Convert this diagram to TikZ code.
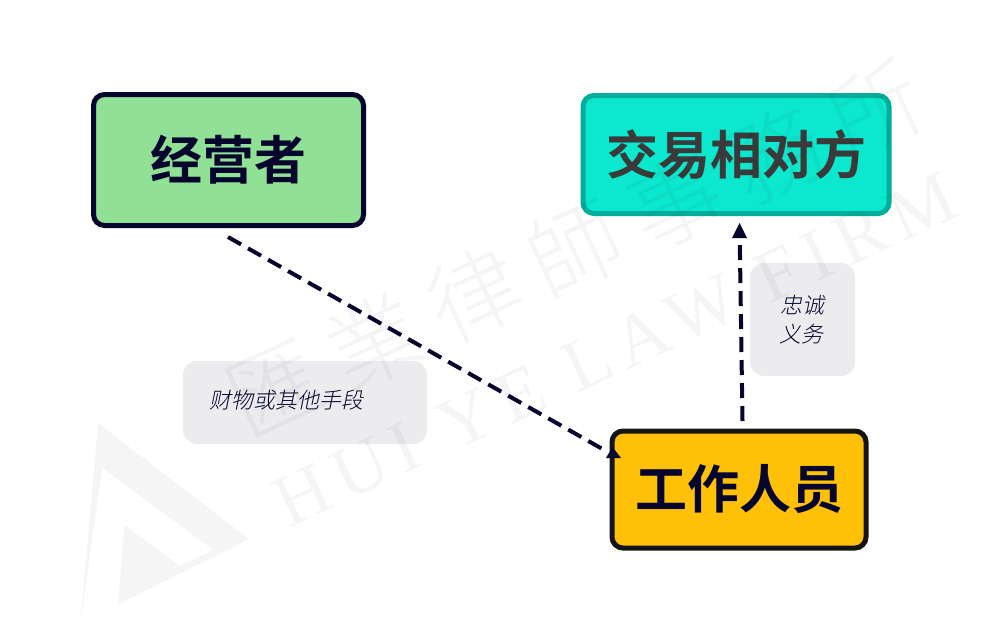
\documentclass[tikz,border=0pt]{standalone}
\usepackage{fontspec}
\setmainfont[LetterSpace=14]{Liberation Serif}
\newfontfamily\cjkb[BoldFont={Noto Sans CJK SC Bold}]{Noto Sans CJK SC}
\newfontfamily\cjki[FakeSlant=0.2]{Noto Sans CJK SC Light}
\newfontfamily\cjkw[LetterSpace=20]{Noto Sans CJK TC Light}
\usetikzlibrary{arrows.meta}
\definecolor{ink}{HTML}{05052E}
\definecolor{labelgray}{HTML}{ECEBEE}
\definecolor{greenfill}{HTML}{90E096}
\definecolor{tealfill}{HTML}{0CE8CE}
\definecolor{tealline}{HTML}{00AE9E}
\definecolor{amber}{HTML}{FFC107}
\definecolor{amberline}{HTML}{141414}
\definecolor{graytext}{HTML}{3A3A3A}
\tikzset{
  party/.style={rounded corners=11pt, line width=5pt, inner sep=0pt, font=\cjkb\bfseries\fontsize{52}{52}\selectfont},
  tag/.style={rounded corners=14pt, fill=labelgray, inner sep=0pt, text=ink, font=\cjki\fontsize{22}{28}\selectfont, align=center},
  link/.style={draw=ink, line width=4pt, dash pattern=on 15pt off 8pt},
  wmark/.style={opacity=0.04, text opacity=0.04}
}
\begin{document}
\begin{tikzpicture}[x=1pt,y=-1pt]
\useasboundingbox (0,0) rectangle (981,640);
\fill[white] (0,0) rectangle (981,640);
\node[party, draw=ink, fill=greenfill, text=ink, minimum width=270pt, minimum height=131pt] (boss) at (228.5,160) {\raisebox{-1pt}{经营者}};
\node[party, draw=tealline, fill=tealfill, text=graytext, minimum width=306pt, minimum height=118pt] (other) at (736,154.5) {\raisebox{1pt}{交易相对方}};
\node[party, draw=amberline, fill=amber, text=ink, minimum width=254pt, minimum height=117pt] (staff) at (739,489.5) {\raisebox{1pt}{工作人员}};
\node[tag, minimum width=244pt, minimum height=83pt] (means) at (305,402.5) {};
\node[anchor=west, text=ink, font=\cjki\fontsize{22}{28}\selectfont, inner sep=0pt] (meanstext) at (209,400) {财物或其他手段};
\node[tag, minimum width=105pt, minimum height=113pt] (duty) at (802.5,319.5) {\raisebox{1pt}{忠诚}\\\kern-2pt 义务};
\coordinate (a1) at (228,237);
\coordinate (a2) at (606,451);
\coordinate (b1) at (742.5,421);
\coordinate (b2) at (739.5,223);
\draw[link] (a1) -- (a2);
\fill[ink] (612.5,447) -- (621,458) -- (606,458) -- cycle;
\path (b1) -- coordinate[pos=0.93] (b3) (b2);
\draw[link] (b1) -- (b3);
\fill[ink] (b2) -- (747,238) -- (732,238) -- cycle;
% watermark
\fill[wmark] (98.2,423.2) -- (249.3,539.3) -- (118.2,604.3) -- (124.3,525) -- (179.6,566) -- (213.6,550) -- (102.1,467.9) -- (80.4,623.2) -- cycle;
\node[wmark, rotate=25, font=\cjkw\fontsize{92}{92}\selectfont, inner sep=0pt] (wmcn) at (575,248) {匯業律師事務所};
\node[wmark, rotate=25, font=\fontsize{74}{74}\selectfont, inner sep=0pt] (wmen) at (615,350) {HUI YE LAW FIRM};
\end{tikzpicture}
\end{document}
